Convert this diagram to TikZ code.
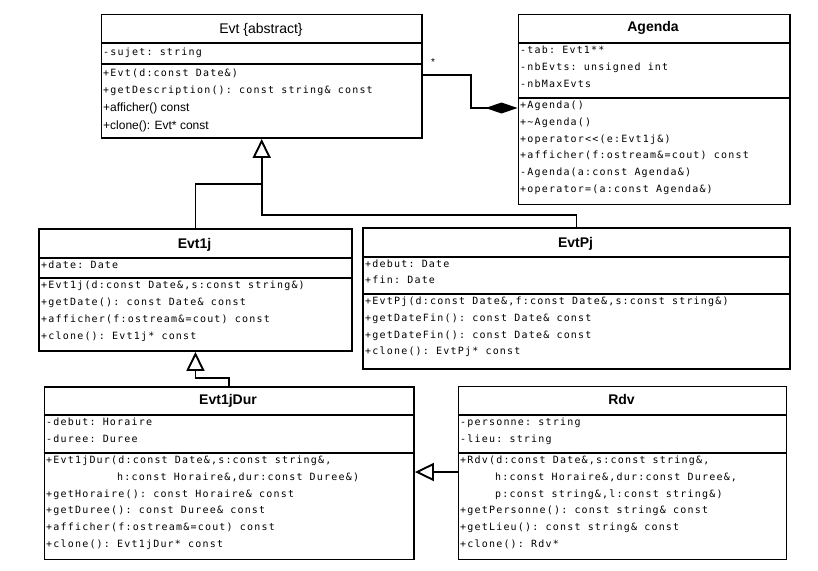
\documentclass[tikz,border=0pt]{standalone}
\usepackage{fontspec}
\setmainfont{Liberation Sans}
\setmonofont{DejaVu Sans Mono}[LetterSpace=12]
\usetikzlibrary{arrows.meta}

\tikzset{
  x=1pt, y=-1pt,
  classbox/.style={draw, line width=1.9pt, anchor=north west, inner sep=0pt, fill=white},
  sep/.style={line width=1.9pt},
  hdr/.style={anchor=base, font=\fontsize{14}{16}\selectfont\bfseries, inner sep=0pt},
  hdrplain/.style={anchor=base, font=\fontsize{14}{16}\selectfont, inner sep=0pt},
  mem/.style={anchor=base west, font=\ttfamily\fontsize{10}{12}\selectfont, inner sep=0pt},
  smem/.style={anchor=base west, font=\fontsize{12}{14}\selectfont, inner sep=0pt},
  link/.style={line width=1.9pt},
  inherit/.style={link, -{Triangle[open, length=19pt, width=18pt, line width=1.9pt]}},
  compose/.style={link, -{Diamond[length=32pt, width=11pt]}},
}

\begin{document}
\begin{tikzpicture}
\useasboundingbox (0,0) rectangle (818,570);
\fill[white] (0,0) rectangle (818,570);

% ---------- Evt ----------
\node[classbox, minimum width=320.5pt, minimum height=123.5pt] (evt) at (100.5,13.5) {};
\draw[sep] (evt.west |- 0,43) -- (evt.east |- 0,43);
\draw[sep] (evt.west |- 0,64) -- (evt.east |- 0,64);
\node[hdrplain] (evt-h) at (261,33) {Evt \{abstract\}};
\node[mem] (evt-a1) at (103,55) {-sujet: string};
\node[mem] (evt-m1) at (103,76.5) {+Evt(d:const Date\&)};
\node[mem] (evt-m2) at (103,93) {+getDescription(): const string\& const};
\node[smem] (evt-m3) at (103,111.5) {+afficher() const};
\node[smem] (evt-m4) at (103,129) {+clone(): Evt* const};

% ---------- Agenda ----------
\node[classbox, minimum width=271.5pt, minimum height=190pt] (agenda) at (517.5,13.5) {};
\draw[sep] (agenda.west |- 0,43) -- (agenda.east |- 0,43);
\draw[sep] (agenda.west |- 0,98) -- (agenda.east |- 0,98);
\node[hdr] (agenda-h) at (653,31.5) {Agenda};
\node[mem] (ag-a1) at (520,53) {-tab: Evt1**};
\node[mem] (ag-a2) at (520,70) {-nbEvts: unsigned int};
\node[mem] (ag-a3) at (520,87) {-nbMaxEvts};
\node[mem] (ag-m1) at (520,108.5) {+Agenda()};
\node[mem] (ag-m2) at (520,125.3) {+\textasciitilde Agenda()};
\node[mem] (ag-m3) at (520,142) {+operator<<(e:Evt1j\&)};
\node[mem] (ag-m4) at (520,158.8) {+afficher(f:ostream\&=cout) const};
\node[mem] (ag-m5) at (520,175.6) {-Agenda(a:const Agenda\&)};
\node[mem] (ag-m6) at (520,192.4) {+operator=(a:const Agenda\&)};

% ---------- Evt1j ----------
\node[classbox, minimum width=313pt, minimum height=122pt] (evt1j) at (38,228) {};
\draw[sep] (evt1j.west |- 0,258) -- (evt1j.east |- 0,258);
\draw[sep] (evt1j.west |- 0,278) -- (evt1j.east |- 0,278);
\node[hdr] (evt1j-h) at (194.5,248) {Evt1j};
\node[mem] (e1-a1) at (41,268) {+date: Date};
\node[mem] (e1-m1) at (41,288.5) {+Evt1j(d:const Date\&,s:const string\&)};
\node[mem] (e1-m2) at (41,305.5) {+getDate(): const Date\& const};
\node[mem] (e1-m3) at (41,322.3) {+afficher(f:ostream\&=cout) const};
\node[mem] (e1-m4) at (41,339) {+clone(): Evt1j* const};

% ---------- EvtPj ----------
\node[classbox, minimum width=427pt, minimum height=141pt] (evtpj) at (362,227) {};
\draw[sep] (evtpj.west |- 0,257) -- (evtpj.east |- 0,257);
\draw[sep] (evtpj.west |- 0,294) -- (evtpj.east |- 0,294);
\node[hdr] (evtpj-h) at (575.5,247) {EvtPj};
\node[mem] (ep-a1) at (365,267) {+debut: Date};
\node[mem] (ep-a2) at (365,283.7) {+fin: Date};
\node[mem] (ep-m1) at (365,304.5) {+EvtPj(d:const Date\&,f:const Date\&,s:const string\&)};
\node[mem] (ep-m2) at (365,321.3) {+getDateFin(): const Date\& const};
\node[mem] (ep-m3) at (365,338.1) {+getDateFin(): const Date\& const};
\node[mem] (ep-m4) at (365,354.9) {+clone(): EvtPj* const};

% ---------- Evt1jDur ----------
\node[classbox, minimum width=369.5pt, minimum height=172.5pt] (evt1jdur) at (43.5,386) {};
\draw[sep] (evt1jdur.west |- 0,415) -- (evt1jdur.east |- 0,415);
\draw[sep] (evt1jdur.west |- 0,453) -- (evt1jdur.east |- 0,453);
\node[hdr] (evt1jdur-h) at (228,404) {Evt1jDur};
\node[mem] (ed-a1) at (46,425.7) {-debut: Horaire};
\node[mem] (ed-a2) at (46,442.5) {-duree: Duree};
\node[mem] (ed-m1) at (46,463.5) {+Evt1jDur(d:const Date\&,s:const string\&,};
\node[mem] (ed-m1b) at (46,480.3) {\hphantom{+Evt1jDur(}h:const Horaire\&,dur:const Duree\&)};
\node[mem] (ed-m2) at (46,497.1) {+getHoraire(): const Horaire\& const};
\node[mem] (ed-m3) at (46,513.9) {+getDuree(): const Duree\& const};
\node[mem] (ed-m4) at (46,530.7) {+afficher(f:ostream\&=cout) const};
\node[mem] (ed-m5) at (46,547.5) {+clone(): Evt1jDur* const};

% ---------- Rdv ----------
\node[classbox, minimum width=328pt, minimum height=173pt] (rdv) at (457.5,385.5) {};
\draw[sep] (rdv.west |- 0,415) -- (rdv.east |- 0,415);
\draw[sep] (rdv.west |- 0,453) -- (rdv.east |- 0,453);
\node[hdr] (rdv-h) at (621.5,404) {Rdv};
\node[mem] (rd-a1) at (460,425.7) {-personne: string};
\node[mem] (rd-a2) at (460,442.5) {-lieu: string};
\node[mem] (rd-m1) at (460,463.5) {+Rdv(d:const Date\&,s:const string\&,};
\node[mem] (rd-m1b) at (460,480.3) {\hphantom{+Rdv(}h:const Horaire\&,dur:const Duree\&,};
\node[mem] (rd-m1c) at (460,497.1) {\hphantom{+Rdv(}p:const string\&,l:const string\&)};
\node[mem] (rd-m2) at (460,513.9) {+getPersonne(): const string\& const};
\node[mem] (rd-m3) at (460,530.7) {+getLieu(): const string\& const};
\node[mem] (rd-m4) at (460,547.5) {+clone(): Rdv*};

% ---------- relations ----------
\draw[inherit] (evtpj.north) |- ([yshift=-76pt]evt.south) -- (evt.south);
\draw[link] (evt1j.north) |- ([yshift=-45pt]evt.south);
\draw[inherit] (evt1jdur.north) |- ([yshift=-26pt]evt1j.south) -- (evt1j.south);
\draw[inherit] (rdv.west |- 0,472) -- (evt1jdur.east |- 0,472);
\draw[compose] (evt.east |- 0,75) -| (471,108) -- (agenda.west |- 0,108);
\node[font=\fontsize{10}{12}\selectfont, inner sep=0pt] (mult) at (433,62) {*};
\end{tikzpicture}
\end{document}
